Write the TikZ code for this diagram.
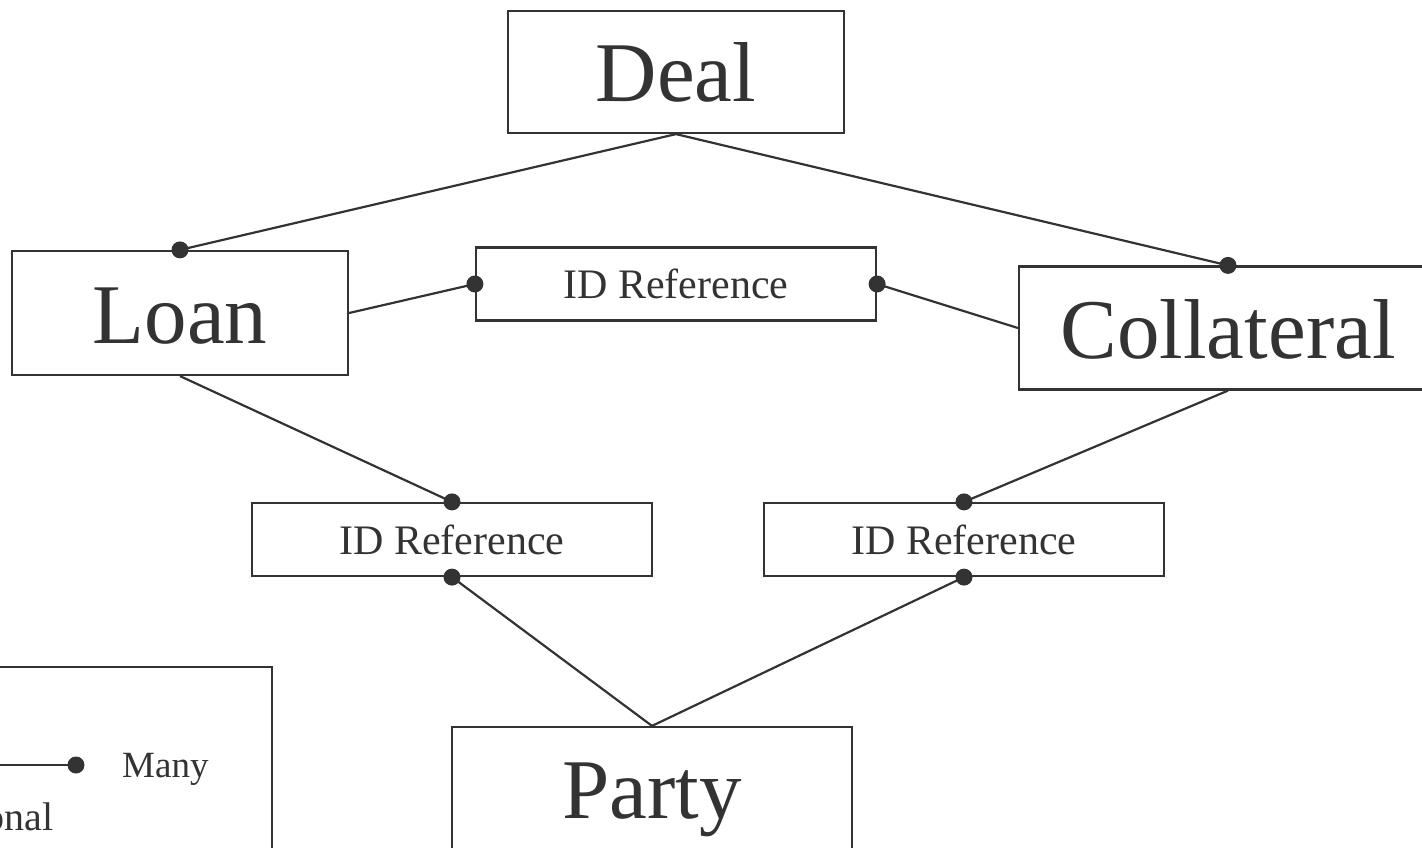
\documentclass[tikz,border=0pt]{standalone}
\usepackage{fontspec}
\setmainfont{Liberation Serif}
\usepackage{tikz}
\definecolor{ink}{HTML}{333333}

\begin{document}
\begin{tikzpicture}[x=1pt,y=-1pt,
        entity/.style={draw=ink,line width=2.2pt,inner sep=0pt,text=ink,
            font=\fontsize{85}{85}\selectfont,text height=76pt,text depth=16pt},
        idref/.style={entity,minimum width=400pt,minimum height=73pt,
            font=\fontsize{42}{42}\selectfont,text height=37.5pt,text depth=8pt},
        link/.style={draw=ink,line width=2.2pt}]
        \useasboundingbox (0,0) rectangle (1422,848);
        \clip (0,0) rectangle (1422,848);
        \node[entity,minimum width=336pt,minimum height=122pt] (deal) at (676,72) {Deal};
        \node[entity,minimum width=336pt,minimum height=124pt] (loan) at (180,313) {Loan};
        \node[entity,minimum width=418pt,minimum height=123pt] (coll) at (1228,328) {Collateral};
        \node[idref] (idtop) at (676,284) {ID Reference};
        \node[idref] (idleft) at (452,539.5) {ID Reference};
        \node[idref] (idright) at (964,539.5) {ID Reference};
        \node[entity,minimum width=400pt,minimum height=123pt] (party) at (652,788.5) {Party};
        \draw[link] (deal.south)--(loan.north);
        \draw[link] (deal.south)--(coll.north);
        \draw[link] (loan.east)--(idtop.west);
        \draw[link] (idtop.east)--(coll.west);
        \draw[link] (loan.south)--(idleft.north);
        \draw[link] (coll.south)--(idright.north);
        \draw[link] (idleft.south)--(party.north);
        \draw[link] (idright.south)--(party.north);
        \foreach \p in {loan.north,coll.north,idtop.west,idtop.east,
            idleft.north,idleft.south,idright.north,idright.south}
            \fill[ink] (\p) circle (8.5);
        % legend
        \draw[ink,line width=2.2pt] (-150,667) rectangle (272,900);
        \coordinate (lgfrom) at (-20,765);
        \coordinate (lgmany) at (76,765);
        \draw[link] (lgfrom)--(lgmany);
        \fill[ink] (lgmany) circle (8.5);
        \node[anchor=base west,inner sep=0pt,text=ink,font=\fontsize{37}{37}\selectfont] (many) at (122,777) {Many};
        \node[anchor=base east,inner sep=0pt,text=ink,font=\fontsize{40}{40}\selectfont] (optional) at (54,830) {Optional};
    \end{tikzpicture}
\end{document}
